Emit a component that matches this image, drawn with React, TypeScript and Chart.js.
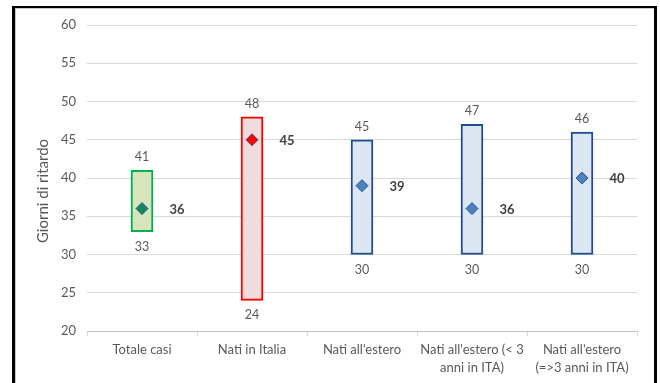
import React, { useEffect, useRef } from "react";
import { Chart, registerables } from "chart.js";

Chart.register(...registerables);

// Categories shown on the x axis (multi-line labels as arrays)
const categories: (string | string[])[] = [
  "Totale casi",
  "Nati in Italia",
  "Nati all'estero",
  ["Nati all'estero (< 3", "anni in ITA)"],
  ["Nati all'estero", "(=>3 anni in ITA)"],
];

// Range of delay days (minimum, maximum) per group
const minValues = [33, 24, 30, 30, 30];
const maxValues = [41, 48, 45, 47, 46];
// Central value (diamond marker) per group
const centralValues = [36, 45, 39, 36, 40];

// Y axis range and title
const yMin = 20;
const yMax = 60;
const yStep = 5;
const yTitle = "Giorni di ritardo";

const barFills = ["#d7e4bd", "#f2dcdb", "#dce6f2", "#dce6f2", "#dce6f2"];
const barBorders = ["#00b050", "#ff0000", "#1f4e8c", "#1f4e8c", "#1f4e8c"];
const markerFills = ["#138a55", "#ff0000", "#4f81bd", "#4f81bd", "#4f81bd"];

const FONT = "Lato, 'Open Sans', sans-serif";

// Min / max labels around each range bar and the bold central value on its right
const valueLabels = {
  id: "valueLabels",
  afterDatasetsDraw(chart: any) {
    const { ctx } = chart;
    const y = chart.scales.y;
    const meta = chart.getDatasetMeta(1);
    ctx.save();
    ctx.textAlign = "center";
    ctx.textBaseline = "middle";
    meta.data.forEach((el: any, i: number) => {
      const x = el.x;
      const top = y.getPixelForValue(maxValues[i]);
      const bottom = y.getPixelForValue(minValues[i]);
      const mid = y.getPixelForValue(centralValues[i]);
      ctx.fillStyle = "#595959";
      ctx.font = `12.5px ${FONT}`;
      ctx.fillText(String(maxValues[i]), x, top - 13);
      ctx.fillText(String(minValues[i]), x, bottom + 15);
      ctx.fillStyle = "#404040";
      ctx.font = `bold 13px ${FONT}`;
      ctx.fillText(String(centralValues[i]), x + 35, mid + 1);
    });
    ctx.restore();
  },
};

// Rotated y axis title, placed slightly below the vertical centre of the plot
const axisTitle = {
  id: "axisTitle",
  afterDraw(chart: any) {
    const { ctx, chartArea } = chart;
    ctx.save();
    ctx.translate(43, (chartArea.top + chartArea.bottom) / 2 + 13);
    ctx.rotate(-Math.PI / 2);
    ctx.textAlign = "center";
    ctx.textBaseline = "middle";
    ctx.fillStyle = "#595959";
    ctx.font = `15px ${FONT}`;
    ctx.fillText(yTitle, 0, 0);
    ctx.restore();
  },
};

export default function App() {
  const canvasRef = useRef<HTMLCanvasElement | null>(null);

  useEffect(() => {
    if (!canvasRef.current) return;
    const chart = new Chart(canvasRef.current, {
      type: "bar",
      data: {
        labels: categories,
        datasets: [
          {
            type: "line",
            data: centralValues,
            showLine: false,
            pointStyle: "rectRot",
            pointRadius: 6,
            pointBackgroundColor: markerFills,
            pointBorderColor: "#2f5597",
            pointBorderWidth: 1,
            order: 0,
          } as any,
          {
            type: "bar",
            data: minValues.map((v, i) => [v, maxValues[i]]),
            backgroundColor: barFills,
            borderColor: barBorders,
            borderWidth: 2,
            borderSkipped: false,
            barThickness: 22,
            order: 1,
          } as any,
        ],
      },
      options: {
        responsive: false,
        animation: false,
        events: [],
        layout: { padding: { left: 31, right: 23, top: 25, bottom: 0 } },
        plugins: {
          legend: { display: false },
          tooltip: { enabled: false },
        },
        scales: {
          x: {
            grid: {
              drawOnChartArea: false,
              drawTicks: true,
              tickLength: 5,
              color: "#d9d9d9",
            },
            border: { color: "#bfbfbf" },
            ticks: {
              color: "#595959",
              font: { family: FONT, size: 13, lineHeight: 1.4 },
              padding: 5,
              maxRotation: 0,
              autoSkip: false,
            },
            afterFit: (s: any) => {
              s.height = 52;
            },
          },
          y: {
            min: yMin,
            max: yMax,
            grid: { color: "#d9d9d9", drawTicks: false },
            border: { display: false },
            ticks: {
              stepSize: yStep,
              color: "#595959",
              font: { family: FONT, size: 13 },
              padding: 11,
            },
            afterFit: (s: any) => {
              s.width = 56;
            },
          },
        },
      } as any,
      plugins: [valueLabels, axisTitle],
    });
    return () => chart.destroy();
  }, []);

  return (
    <div style={{ position: "fixed", left: 0, top: 0, width: 660, height: 383, background: "#fff" }}>
      <canvas ref={canvasRef} width={660} height={383} style={{ position: "absolute", left: 0, top: 0 }} />
      <div
        style={{
          position: "absolute",
          left: 12,
          top: 6,
          width: 639,
          height: 390,
          borderLeft: "3px solid #000",
          borderTop: "2px solid #000",
          borderRight: "3px solid #000",
          boxShadow: "inset 1px 1px 0 #c8c8c8",
          pointerEvents: "none",
        }}
      />
    </div>
  );
}
